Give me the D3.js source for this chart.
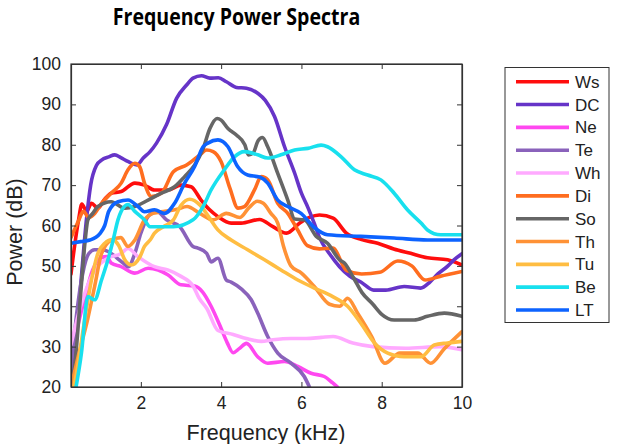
<!DOCTYPE html>
<html><head><meta charset="utf-8">
<script src="https://cdn.jsdelivr.net/npm/d3@7/dist/d3.min.js"></script>
<style>body{margin:0;background:#fff}svg{display:block}text{font-family:"Liberation Sans",Arial,sans-serif;fill:#222}</style>
</head><body><svg id="c" width="618" height="444"></svg>
<script>
const seriesNames = ["Ws","DC","Ne","Te","Wh","Di","So","Th","Tu","Be","LT"];
const seriesColors = ["#ff0d0d","#6634c8","#ff48f0","#8a62bb","#ffaaff","#ff6d1f","#666666","#ff9236","#ffbd42","#18e0ee","#0d63ff"];
const xTicks = [2,4,6,8,10];
const yTicks = [20,30,40,50,60,70,80,90,100];

const Ws_f = [0.26,0.35,0.45,0.53,0.65,0.77,0.93,1.1,1.26,1.51,1.85,2.09,2.34,2.67,3.0,3.25,3.5,3.7,3.92,4.25,4.5,4.96,5.29,5.63,5.96,6.2,6.45,6.79,7.12,7.5,7.9,8.3,8.72,9.14,9.64,10];
const Ws   = [48,55,61.5,65.3,63.5,65.5,64.3,66.5,68,68.4,70.5,70,68.8,68.8,70,69.6,66.3,64,62.2,60.6,60.6,61.5,59.7,58.1,60.6,62,62.6,61.8,58.1,56.5,55.6,54.2,53.1,52,51.5,50.2];

const DC_f = [0.26,0.35,0.5,0.64,0.75,0.9,1.02,1.2,1.35,1.5,1.69,1.9,2.06,2.23,2.39,2.64,2.89,3.14,3.3,3.51,3.72,3.93,4.13,4.38,4.63,4.92,5.1,5.33,5.58,5.83,6.0,6.16,6.32,6.45,6.7,6.95,7.2,7.48,7.8,8.1,8.56,8.97,9.2,9.4,9.65,9.8,10];
const DC   = [20,28,45,61,70,75,76.2,77,77.5,76.8,75.8,75,76.7,78.3,80.4,85,91.5,94.8,96.5,97.1,96.5,96.6,95.6,94.2,94,92.7,91,87,79.5,73,68,64.5,60.5,57,53,49.8,47.5,46,44,44,44.9,44.5,46,48,50,51.5,53];

const Ne_f = [0.26,0.4,0.6,0.8,1.0,1.15,1.26,1.51,1.85,2.18,2.43,2.67,3.0,3.34,3.54,3.75,4.0,4.15,4.3,4.45,4.63,4.91,5.16,5.58,5.91,6.24,6.57,6.78,6.9];
const Ne   = [28,34,42,49,52,52.3,50.7,49.8,48.2,49.4,49,47.8,45.3,45,43.5,40,34.5,31,28.5,29.5,30.8,27.5,25.9,26.3,25.1,23.4,22.6,21,20];

const Te_f = [0.26,0.4,0.55,0.7,0.85,1.02,1.2,1.4,1.56,1.69,1.85,2.0,2.2,2.4,2.64,2.97,3.3,3.42,3.64,3.75,3.92,4.13,4.25,4.5,4.75,4.91,5.16,5.41,5.74,6.07,6.2];
const Te   = [24,38,48,53,54,54,53.5,52,50.7,49.8,53.1,58.1,62.5,63.5,61.4,59.7,54.8,54.4,53.1,51,51.9,46.5,46,44.3,41.6,38.3,32.5,28.4,25.9,22.6,20];

const Wh_f = [0.26,0.5,0.8,1.2,1.5,1.68,1.93,2.34,2.67,3.0,3.3,3.45,3.64,3.92,4.3,4.63,5.0,5.29,5.74,6.12,6.5,6.79,7.28,7.78,8.6,9.44,10];
const Wh   = [30.5,40,48,52,53,54.3,52.3,49.8,49,47.4,45,42,39.5,34,33,32,31.3,31.7,32,32,32.3,32.5,30.9,30,29.6,30,29.2];

const Di_f = [0.26,0.44,0.57,0.7,0.85,1.02,1.26,1.51,1.68,1.85,1.97,2.09,2.26,2.51,2.81,3.14,3.47,3.64,3.8,4.0,4.22,4.42,4.58,4.83,5.0,5.16,5.41,5.66,5.9,6.15,6.45,6.78,7.13,7.5,7.95,8.4,8.75,9.08,9.45,10];
const Di   = [57,61,63.5,62,63,65.5,68,70.5,73.8,75.4,74.6,70.5,67.2,68,73.3,75,77.5,78.7,78.3,75.8,69.2,64.3,64.7,68.8,72.1,71.3,65.5,63,59,55,54.2,54.4,48.8,48,48.4,51.2,50,46.5,47.4,48.6];

const So_f = [0.26,0.35,0.5,0.6,0.68,0.8,0.93,1.26,1.6,1.85,2.18,2.51,2.84,3.09,3.34,3.55,3.72,3.9,4.0,4.17,4.38,4.59,4.68,4.8,4.92,5.03,5.16,5.41,5.66,5.83,6.07,6.37,6.65,6.95,7.07,7.3,7.5,7.78,8.0,8.31,8.81,9.14,9.56,10];
const So   = [20,25,43,55,61.4,63,64.7,65.9,64.3,64.7,66.3,68,69.6,72.1,75,79,84,86.5,86.1,84,82.4,80,77.5,78,81,81.8,79.5,72.9,66.3,61.6,61.4,57.3,55.6,51.5,50.7,47,43.5,40.5,38,36.6,36.6,37.5,38.3,37.5];

const Th_f = [0.26,0.45,0.68,0.85,1.02,1.26,1.5,1.68,1.85,2.09,2.3,2.6,2.9,3.15,3.47,3.8,4.13,4.47,4.7,4.9,5.05,5.24,5.41,5.55,5.74,6.0,6.32,6.7,6.95,7.15,7.4,7.75,8.08,8.45,8.9,9.22,9.56,10];
const Th   = [20,28,37,45,53,56.4,57,54.8,56.4,61.4,63,63.5,64,64.7,63,61.4,63,62,64.5,66,65.5,63,60.6,55,50,48.2,44.9,40.5,40,42,38.3,32.5,25.9,28.4,28.4,25.9,29.5,33.7];

const Tu_f = [0.26,0.35,0.6,0.77,0.93,1.1,1.3,1.45,1.6,1.76,1.98,2.09,2.23,2.34,2.56,2.81,3.0,3.22,3.47,3.7,3.92,4.25,4.66,5.08,5.49,5.91,6.32,6.78,7.15,7.48,7.82,8.15,8.56,8.98,9.31,9.64,10];
const Tu   = [18,21,36.6,46.5,53.1,55.6,56.5,55,51.5,50.2,52.3,54.8,56.4,58.1,59.7,61.4,65,66.5,65.1,62,58.9,56.4,54,51.5,49,46.5,44.5,42.4,40,35.8,30.9,28.4,27.5,27.5,30.4,30.9,31.3];

const Be_f = [0.33,0.52,0.68,0.85,1.02,1.18,1.31,1.43,1.51,1.68,1.85,2.09,2.23,2.81,3.3,3.55,3.75,4.08,4.33,4.58,4.91,5.16,5.49,5.83,6.16,6.49,6.65,6.99,7.32,7.65,7.98,8.31,8.64,8.98,9.14,9.47,10];
const Be   = [17,28.4,42.4,41.6,46.5,51.5,56.4,61.4,63.5,65.2,63.5,61.4,59.7,59.7,61.4,64.7,68.8,73.8,77,78.3,77.5,76.7,77.5,78.7,79.1,79.9,79.5,77,73.8,72.5,71.3,68,63.9,60.6,58.9,57.7,57.7];

const LT_f = [0.26,0.5,0.73,0.98,1.1,1.2,1.43,1.68,1.93,2.09,2.34,2.59,2.84,3.09,3.34,3.55,3.67,3.92,4.17,4.41,4.66,4.96,5.16,5.41,5.66,5.99,6.32,6.65,7.48,8.31,9.14,10];
const LT   = [55.6,56,56.4,58,60,63.5,65.9,66.3,64.7,63.4,63.9,63,65.5,70.5,74.6,79.5,80.4,81.2,79.5,74.6,72.5,72,70.5,66.3,64.7,63,59.5,57.7,57.3,56.9,56.4,56.4];

const freqs = [Ws_f,DC_f,Ne_f,Te_f,Wh_f,Di_f,So_f,Th_f,Tu_f,Be_f,LT_f];
const values = [Ws,DC,Ne,Te,Wh,Di,So,Th,Tu,Be,LT];

const svg = d3.select("#c");
const L = 71, R = 462, T = 64, B = 387;
const x = d3.scaleLinear().domain([0.26,10]).range([L,R]);
const y = d3.scaleLinear().domain([20,100]).range([B,T]);

svg.append("defs").append("clipPath").attr("id","clip")
  .append("rect").attr("x",L).attr("y",T).attr("width",R-L).attr("height",B-T);

// title
svg.append("text").attr("transform","translate(236.5,25) scale(0.85,1)").attr("text-anchor","middle")
  .style("font-family","'Open Sans',sans-serif").style("font-weight","700").style("font-size","23px")
  .style("fill","#000").text("Frequency Power Spectra");

// lines
const line = d3.line().x(d=>x(d[0])).y(d=>y(d[1])).curve(d3.curveMonotoneX);
const g = svg.append("g").attr("clip-path","url(#clip)");
seriesNames.forEach((n,i)=>{
  const pts = freqs[i].map((f,j)=>[f,values[i][j]]);
  g.append("path").attr("d",line(pts)).attr("fill","none")
   .attr("stroke",seriesColors[i]).attr("stroke-width",3.6)
   .attr("stroke-linejoin","round").attr("stroke-linecap","round");
});

// axes (box with inward ticks)
const axCol = "#333";
const tick = 5;
const gb = svg.append("g").attr("transform",`translate(0,${B})`).call(d3.axisBottom(x).tickValues(xTicks).tickSizeInner(-tick).tickSizeOuter(0).tickPadding(10));
const gt = svg.append("g").attr("transform",`translate(0,${T})`).call(d3.axisTop(x).tickValues(xTicks).tickSizeInner(-tick).tickSizeOuter(0).tickFormat(""));
const gl = svg.append("g").attr("transform",`translate(${L},0)`).call(d3.axisLeft(y).tickValues(yTicks).tickSizeInner(-tick).tickSizeOuter(0).tickPadding(10));
const gr = svg.append("g").attr("transform",`translate(${R},0)`).call(d3.axisRight(y).tickValues(yTicks).tickSizeInner(-tick).tickSizeOuter(0).tickFormat(""));
[gb,gt,gl,gr].forEach(a=>{
  a.select(".domain").attr("stroke",axCol).attr("stroke-width",1.2);
  a.selectAll(".tick line").attr("stroke",axCol);
  a.selectAll("text").style("font-size","17.5px").style("fill","#222").style("font-family","'Liberation Sans',Arial,sans-serif");
});
svg.append("rect").attr("x",L).attr("y",T).attr("width",R-L).attr("height",B-T).attr("fill","none").attr("stroke",axCol).attr("stroke-width",1.2);

// axis labels
svg.append("text").attr("x",266).attr("y",440).attr("text-anchor","middle").style("font-size","21.5px").text("Frequency (kHz)");
svg.append("text").attr("transform","translate(22,232) rotate(-90)").attr("text-anchor","middle").style("font-size","21.5px").text("Power (dB)");

// legend
const lg = svg.append("g");
lg.append("rect").attr("x",505).attr("y",67.5).attr("width",104).attr("height",255).attr("fill","#fff").attr("stroke","#333").attr("stroke-width",1);
seriesNames.forEach((n,i)=>{
  const yy = 81.7 + i*22.83;
  lg.append("line").attr("x1",516).attr("x2",569).attr("y1",yy).attr("y2",yy).attr("stroke",seriesColors[i]).attr("stroke-width",3.6);
  lg.append("text").attr("x",575).attr("y",yy).attr("dy","0.36em").style("font-size","17px").text(n);
});
</script></body></html>
